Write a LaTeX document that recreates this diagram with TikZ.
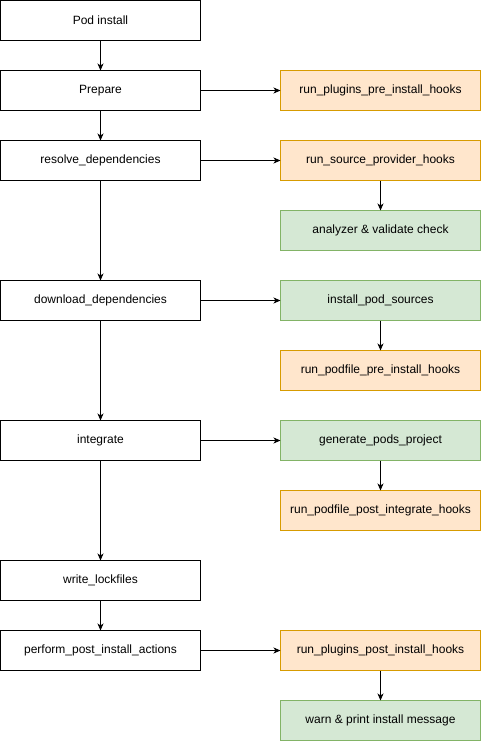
\documentclass[tikz,border=0pt]{standalone}
\usepackage{fontspec}
\setmainfont{Liberation Sans}
\usetikzlibrary{arrows.meta}
\definecolor{orfill}{HTML}{FFE6CC}
\definecolor{orline}{HTML}{D79B00}
\definecolor{grfill}{HTML}{D5E8D4}
\definecolor{grline}{HTML}{82B366}
\begin{document}
\begin{tikzpicture}[x=1pt,y=-1pt,
  base/.style={draw,line width=1pt,minimum width=200pt,minimum height=40pt,inner sep=0pt,outer sep=0pt,font=\fontsize{12}{14}\selectfont},
  plain/.style={base,fill=white,draw=black},
  orbox/.style={base,fill=orfill,draw=orline},
  grbox/.style={base,fill=grfill,draw=grline},
  conn/.style={line width=1pt,-{Stealth[length=7pt,width=6pt,inset=2pt]}}]
\useasboundingbox (0,0) rectangle (481,741);
\fill[white] (0,0) rectangle (481,741);
\node[plain] (pod) at (100.5,20.5) {Pod install};
\node[plain] (prep) at (100.5,90.5) {Prepare};
\node[plain] (res) at (100.5,160.5) {resolve\_dependencies};
\node[plain] (dl) at (100.5,300.5) {download\_dependencies};
\node[plain] (int) at (100.5,440.5) {integrate};
\node[plain] (wl) at (100.5,580.5) {write\_lockfiles};
\node[plain] (ppia) at (100.5,650.5) {perform\_post\_install\_actions};
\node[orbox] (rppi) at (380.5,90.5) {run\_plugins\_pre\_install\_hooks};
\node[orbox] (rsph) at (380.5,160.5) {run\_source\_provider\_hooks};
\node[grbox] (avc) at (380.5,230.5) {analyzer \& validate check};
\node[grbox] (ips) at (380.5,300.5) {install\_pod\_sources};
\node[orbox] (rppih) at (380.5,370.5) {run\_podfile\_pre\_install\_hooks};
\node[grbox] (gpp) at (380.5,440.5) {generate\_pods\_project};
\node[orbox] (rppoih) at (380.5,510.5) {run\_podfile\_post\_integrate\_hooks};
\node[orbox] (rplpih) at (380.5,650.5) {run\_plugins\_post\_install\_hooks};
\node[grbox] (wpim) at (380.5,720.5) {warn \& print install message};
\draw[conn] (pod) -- (prep);
\draw[conn] (prep) -- (res);
\draw[conn] (res) -- (dl);
\draw[conn] (dl) -- (int);
\draw[conn] (int) -- (wl);
\draw[conn] (wl) -- (ppia);
\draw[conn] (prep) -- (rppi);
\draw[conn] (res) -- (rsph);
\draw[conn] (rsph) -- (avc);
\draw[conn] (dl) -- (ips);
\draw[conn] (ips) -- (rppih);
\draw[conn] (int) -- (gpp);
\draw[conn] (gpp) -- (rppoih);
\draw[conn] (ppia) -- (rplpih);
\draw[conn] (rplpih) -- (wpim);
\end{tikzpicture}
\end{document}
